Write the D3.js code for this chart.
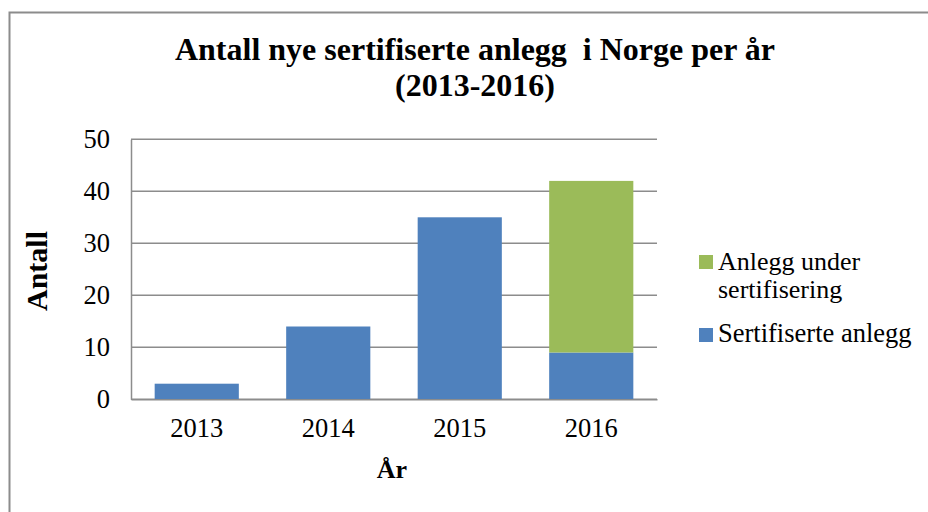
<!DOCTYPE html>
<html>
<head>
<meta charset="utf-8">
<script src="https://cdn.jsdelivr.net/npm/d3@7"></script>
<style>
	body { margin: 0; background: #fff; }
	text { font-family: "Liberation Serif", "Times New Roman", serif; fill: #000; }
</style>
</head>
<body>
<svg></svg>
<script>
const years = ['2013', '2014', '2015', '2016'];
const sertifiserte = [3, 14, 35, 9];
const underSert = [0, 0, 0, 33];
const yTicks = [0, 10, 20, 30, 40, 50];
const seriesNames = ['Sertifiserte anlegg', 'Anlegg under sertifisering'];
const colours = ['#4F81BD', '#9BBB59'];

const width = 928;
const height = 512;
const plot = {left: 131, right: 657, top: 139.3, bottom: 399.3};

const svg = d3.select('svg')
	.attr('width', width)
	.attr('height', height);

// chart frame (right and bottom fall outside the picture)
svg.append('rect')
	.attr('x', 9.5).attr('y', 12.5)
	.attr('width', 940).attr('height', 520)
	.attr('fill', 'none')
	.attr('stroke', '#8c8c8c')
	.attr('stroke-width', 2);

const x = d3.scaleBand()
	.domain(years)
	.range([plot.left, plot.right])
	.paddingInner(0.36)
	.paddingOuter(0.18);

const y = d3.scaleLinear()
	.domain([0, 50])
	.range([plot.bottom, plot.top]);

// gridlines
svg.append('g')
	.selectAll('line')
	.data(yTicks)
	.enter().append('line')
		.attr('x1', plot.left)
		.attr('x2', plot.right)
		.attr('y1', d => y(d))
		.attr('y2', d => y(d))
		.attr('stroke', '#8c8c8c')
		.attr('stroke-width', 1.5);

const rows = years.map((yr, i) => ({year: yr, s0: sertifiserte[i], s1: underSert[i]}));
const stacked = d3.stack().keys(['s0', 's1'])(rows);

svg.append('g')
	.selectAll('g')
	.data(stacked)
	.enter().append('g')
		.attr('fill', (d, i) => colours[i])
	.selectAll('rect')
	.data(d => d)
	.enter().append('rect')
		.attr('x', d => x(d.data.year))
		.attr('width', x.bandwidth())
		.attr('y', d => y(d[1]))
		.attr('height', d => y(d[0]) - y(d[1]));

// axes
const yAxis = svg.append('g')
	.attr('transform', `translate(${plot.left},0)`)
	.call(d3.axisLeft(y).tickValues(yTicks).tickSize(0).tickPadding(21));
const xAxis = svg.append('g')
	.attr('transform', `translate(0,${plot.bottom})`)
	.call(d3.axisBottom(x).tickSize(0).tickPadding(19));
[yAxis, xAxis].forEach(a => {
	a.select('.domain').attr('stroke', '#8c8c8c').attr('stroke-width', 1.5);
	a.selectAll('text').attr('font-size', 26.5).attr('font-family', '"Liberation Serif", serif').attr('fill', '#000');
});

// title
const title = svg.append('text')
	.attr('text-anchor', 'middle')
	.attr('font-size', 32)
	.attr('font-weight', 'bold');
title.append('tspan').attr('x', 475).attr('y', 60).text('Antall nye sertifiserte anlegg\u00a0 i Norge per år');
title.append('tspan').attr('x', 475).attr('y', 96).text('(2013-2016)');

// axis titles
svg.append('text')
	.attr('transform', 'translate(47,271) rotate(-90)')
	.attr('text-anchor', 'middle')
	.attr('font-size', 30)
	.attr('font-weight', 'bold')
	.text('Antall');

svg.append('text')
	.attr('x', 392)
	.attr('y', 478)
	.attr('text-anchor', 'middle')
	.attr('font-size', 26)
	.attr('font-weight', 'bold')
	.text('År');

// legend
const legend = svg.append('g');
legend.append('rect').attr('x', 699).attr('y', 255).attr('width', 14).attr('height', 14).attr('fill', colours[1]);
legend.append('rect').attr('x', 699).attr('y', 328).attr('width', 14).attr('height', 14).attr('fill', colours[0]);
legend.append('text').attr('font-size', 26).attr('x', 718).attr('y', 270).text('Anlegg under');
legend.append('text').attr('font-size', 26).attr('x', 718).attr('y', 298).text('sertifisering');
legend.append('text').attr('font-size', 26.5).attr('x', 718).attr('y', 342).text(seriesNames[0]);
</script>
</body>
</html>
